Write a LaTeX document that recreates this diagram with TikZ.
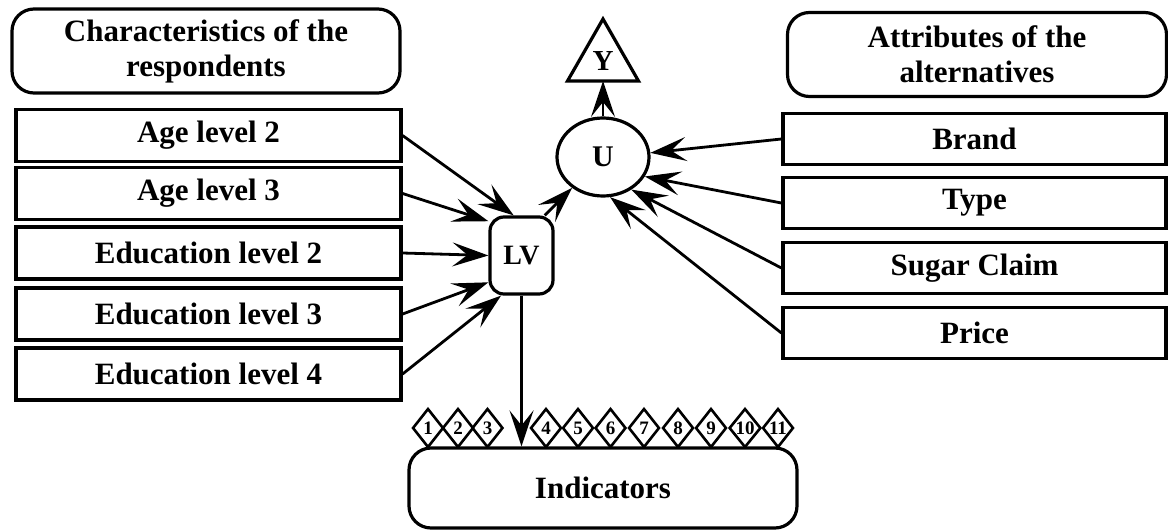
\documentclass[tikz,border=0pt]{standalone}
\usepackage{fontspec}
\setmainfont{Liberation Serif}
\usetikzlibrary{arrows.meta,shapes.geometric}

\begin{document}
\begin{tikzpicture}[x=1pt, y=-1pt, line width=3.2pt,
  font=\fontsize{31}{35}\selectfont\bfseries,
  box/.style={draw, minimum width=385pt, minimum height=52pt, inner sep=0pt},
  head/.style={draw, rounded corners=22pt, minimum height=84pt, align=center, inner sep=0pt},
  num/.style={draw, diamond, minimum width=31pt, minimum height=39pt, inner sep=0pt, line width=2.6pt, font=\fontsize{19}{19}\selectfont\bfseries},
  arr/.style={-{Stealth[length=36pt,width=24pt,inset=15pt]}, line width=2.8pt}]
\useasboundingbox (0,0) rectangle (1168,530);
% headings
\node[head, minimum width=388pt] (resp) at (206,51) {Characteristics of the\\respondents};
\node[head, minimum width=379pt] (alt) at (977,54.5) {Attributes of the\\alternatives};
% respondent variables
\foreach \n/\t/\y in {age2/Age level 2/135.5, age3/Age level 3/193.5, edu2/Education level 2/253, edu3/Education level 3/314, edu4/Education level 4/374}
  \node[box] (\n) at (208.5,\y) {\t};
% alternative attributes
\foreach \n/\t/\y in {brand/Brand/139, type/Type/203, sugar/Sugar Claim/268, price/Price/333}
  \node[box, minimum width=383pt, minimum height=51pt] (\n) at (974.5,\y) {\t};
% latent variable, utility, choice
\node[draw, rounded corners=14pt, minimum width=63pt, minimum height=77pt, inner sep=0pt, font=\fontsize{28}{28}\selectfont\bfseries] (LV) at (521.5,255.5) {LV};
\node[draw, ellipse, minimum width=92pt, minimum height=78pt, inner sep=0pt, font=\fontsize{30}{30}\selectfont\bfseries] (U) at (603,157) {U};
\node[font=\fontsize{29}{29}\selectfont\bfseries] (Y) at (603,61) {Y};
\draw[line join=miter] (603,19) -- (638.5,81) -- (567.5,81) -- cycle;
\coordinate (Ybase) at (603,81);
% indicators
\node[draw, rounded corners=22pt, minimum width=388pt, minimum height=80pt, inner sep=0pt] (ind) at (603,488) {Indicators};
\foreach \i/\x in {1/428, 2/458, 3/487.5, 4/546, 5/578, 6/610.5, 7/644, 8/678, 9/711, 10/745, 11/778}
  \node[num] (d\i) at (\x,428) {\i};
% arrows
\foreach \n/\a in {age2/101, age3/134, edu2/180, edu3/219, edu4/243}
  \draw[arr] (\n.east) -- (LV.\a);
\foreach \n/\a in {brand/5, type/-25, sugar/-49, price/-80}
  \draw[arr] (\n.west) -- (U.\a);
\draw[arr] (LV.60) -- (U.225);
\draw[arr] (U.north) -- (Ybase);
\draw[arr] (LV.south) -- (LV.south |- ind.north);
\end{tikzpicture}
\end{document}
